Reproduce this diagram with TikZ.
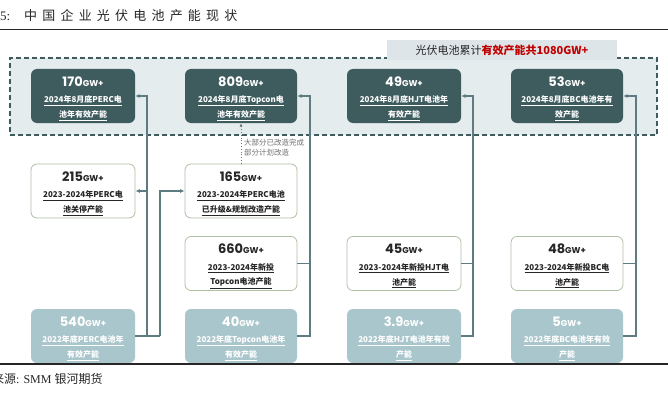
\documentclass[tikz,border=0pt]{standalone}
\usepackage{fontspec}
\usetikzlibrary{calc,arrows.meta}
\setmainfont{Liberation Serif}
\newfontfamily\cjk{Noto Sans CJK SC}
\newfontfamily\cjktitle[LetterSpace=40]{Noto Sans CJK SC}
\newfontfamily\numf{Poppins}
\definecolor{darkteal}{HTML}{3E5B5E}
\definecolor{lightteal}{HTML}{A9C6CC}
\definecolor{boxgreen}{HTML}{AFC0A5}
\definecolor{linec}{HTML}{5E7B82}
\definecolor{bigfill}{HTML}{E4ECEE}
\definecolor{labelfill}{HTML}{DDE5E8}
\definecolor{redtxt}{HTML}{C00000}
\definecolor{darktxt}{HTML}{262626}
\definecolor{notegray}{HTML}{707070}
\newcommand\gwnum[1]{{\fontsize{13}{13}\selectfont #1}{\fontsize{8.5}{8.5}\selectfont GW+}}
\tikzset{
  dbox/.style={rectangle, rounded corners=6pt, fill=darkteal, minimum height=54pt, inner sep=0pt},
  wbox/.style={rectangle, rounded corners=6pt, fill=white, draw=boxgreen, line width=0.8pt, minimum height=54pt, inner sep=0pt},
  lbox/.style={rectangle, rounded corners=6pt, fill=lightteal, minimum height=54pt, inner sep=0pt},
  numtext/.style={font=\numf\bfseries, inner sep=0pt},
  subtext/.style={font=\cjk\bfseries\fontsize{8}{9.5}\selectfont, inner sep=0pt},
  conn/.style={draw=linec, line width=1.3pt},
  arr/.style={conn, -{Latex[length=4.5pt,width=4pt]}},
  groupbox/.style={rectangle, draw=darkteal, fill=bigfill, line width=1.2pt, dash pattern=on 5pt off 3pt, inner sep=0pt},
}
\newcommand\capbox[9]{%
  \node[#5, minimum width=#4pt] (#1) at (#2,#3) {};
  \node[numtext, text=#9] (#1n) at ($(#1.north)+(0,13)$) {\gwnum{#6}};
  \node[subtext, text=#9] (#1a) at ($(#1.north)+(0,32)$) {\underline{#7}};
  \node[subtext, text=#9] (#1b) at ($(#1.north)+(0,47)$) {\underline{#8}};
}
\begin{document}
\begin{tikzpicture}[x=1pt,y=-1pt]
\useasboundingbox (0,0) rectangle (668,401);
\fill[white] (0,0) rectangle (668,401);
% title
\node[anchor=west, inner sep=0pt, font=\fontsize{13}{13}\selectfont, text=darktxt] (t5) at (0,16) {5:};
\node[anchor=west, inner sep=0pt, font=\cjktitle\fontsize{13}{13}\selectfont, text=darktxt] (title) at (24,16) {中国企业光伏电池产能现状};
\draw[line width=1pt, darktxt] (0,30) -- (668,30);
% group region
\node[groupbox, minimum width=647pt, minimum height=77pt] (grp) at (333.5,96.5) {};
\node[fill=labelfill, minimum width=230pt, minimum height=20pt, inner sep=0pt, font=\cjk\fontsize{11}{11}\selectfont, text=darktxt] (lbl) at (502,50) {光伏电池累计{\color{redtxt}\bfseries 有效产能共1080GW+}};
% top boxes
\capbox{b170}{83}{96}{104}{dbox}{170}{2024年8月底PERC电}{池年有效产能}{white}
\capbox{b809}{241}{96}{112}{dbox}{809}{2024年8月底Topcon电}{池年有效产能}{white}
\capbox{b49}{404}{96}{114}{dbox}{49}{2024年8月底HJT电池年}{有效产能}{white}
\capbox{b53}{567}{96}{112}{dbox}{53}{2024年8月底BC电池年有}{效产能}{white}
% middle boxes
\capbox{m215}{83}{191}{104}{wbox}{215}{2023-2024年PERC电}{池关停产能}{darktxt}
\capbox{m165}{241}{191}{112}{wbox}{165}{2023-2024年PERC电池}{已升级\&规划改造产能}{darktxt}
\capbox{m660}{241}{263.5}{112}{wbox}{660}{2023-2024年新投}{Topcon电池产能}{darktxt}
\capbox{m45}{404}{263.5}{114}{wbox}{45}{2023-2024年新投HJT电}{池产能}{darktxt}
\capbox{m48}{567}{263.5}{112}{wbox}{48}{2023-2024年新投BC电}{池产能}{darktxt}
% bottom boxes
\capbox{p540}{83}{336}{104}{lbox}{540}{2022年底PERC电池年}{有效产能}{white}
\capbox{p40}{241}{336}{112}{lbox}{40}{2022年底Topcon电池年}{有效产能}{white}
\capbox{p39}{404}{336}{114}{lbox}{3.9}{2022年底HJT电池年有效}{产能}{white}
\capbox{p5}{567}{336}{112}{lbox}{5}{2022年底BC电池年有效}{产能}{white}
% connector columns
\coordinate (v1) at (147,0);
\coordinate (v1b) at (160,0);
\coordinate (v2) at (310,0);
\coordinate (v3) at (473,0);
\coordinate (v4) at (636,0);
\draw[conn] (p540.east) -- (v1b |- p540.east);
\draw[arr] (v1 |- p540.east) |- (b170.east);
\draw[arr] (v1 |- m215.east) -- (m215.east);
\draw[arr] (v1b |- p540.east) |- (m165.west);
\draw[arr] (p40.east) -- (v2 |- p40.east) |- (b809.east);
\draw[conn] (m660.east) -- (v2 |- m660.east);
\draw[arr] (p39.east) -- (v3 |- p39.east) |- (b49.east);
\draw[conn] (m45.east) -- (v3 |- m45.east);
\draw[arr] (p5.east) -- (v4 |- p5.east) |- (b53.east);
\draw[conn] (m48.east) -- (v4 |- m48.east);
% dotted upgrade link
\draw[draw=notegray, line width=0.8pt, dotted, -{Latex[length=3.5pt,width=3pt]}] (m165.north) -- (b809.south);
\node[anchor=north west, inner sep=0pt, align=left, font=\cjk\fontsize{7.5}{9.5}\selectfont, text=notegray] (note) at (244,139) {大部分已改造完成\\部分计划改造};
% source
\draw[line width=1.1pt, darktxt] (0,364) -- (668,364);
\node[anchor=west, inner sep=0pt, font=\fontsize{12}{12}\selectfont, text=darktxt] (src) at (-8,379) {{\cjk 来源}: SMM {\cjk 银河期货}};
\end{tikzpicture}
\end{document}
